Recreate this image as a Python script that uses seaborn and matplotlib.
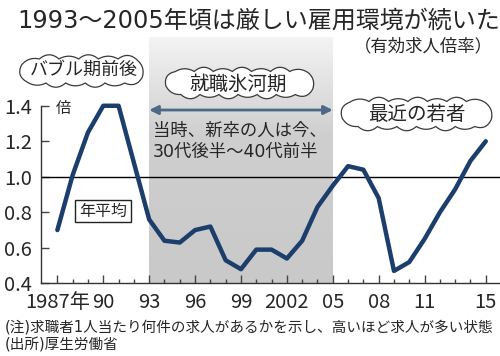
import numpy as np
import seaborn as sns
import matplotlib.pyplot as plt
from matplotlib.colors import LinearSegmentedColormap
from matplotlib.patches import Polygon

# datos: relacion ofertas/solicitantes (promedio anual)
years = list(range(1987, 2016))
ratio = [0.70, 1.01, 1.25, 1.40, 1.40, 1.08, 0.76, 0.64, 0.63, 0.70,
         0.72, 0.53, 0.48, 0.59, 0.59, 0.54, 0.64, 0.83, 0.95, 1.06,
         1.04, 0.88, 0.47, 0.52, 0.65, 0.80, 0.93, 1.09, 1.20]
xtick_years = [1987, 1990, 1993, 1996, 1999, 2002, 2005, 2008, 2011, 2015]
xtick_labels = ['1987年', '90', '93', '96', '99', '2002', '05', '08', '11', '15']
ytick_vals = [0.4, 0.6, 0.8, 1.0, 1.2, 1.4]
hyoga = (1993, 2005)

sns.set_style('white')
plt.rcParams['font.family'] = ['DejaVu Sans', 'Noto Sans CJK JP']
narrow = ['Liberation Sans Narrow', 'Noto Sans CJK JP']

line_color = '#1b3e6c'
arrow_color = '#4e6987'

fig = plt.figure(figsize=(5, 3.56), dpi=100)
ax = fig.add_axes([0.082, 0.204, 0.918, 0.692])
ytop = 1.787

# banda gris con degradado (periodo glacial de empleo)
cmap_band = LinearSegmentedColormap.from_list(
    'band', [(0, '#c9c9c9'), (0.6, '#cfcfcf'), (1, '#f4f4f4')])
grad = np.linspace(0, 1, 256).reshape(-1, 1)
ax.imshow(grad, extent=[hyoga[0], hyoga[1], 0.4, ytop], origin='lower',
          aspect='auto', cmap=cmap_band, zorder=0)

ax.axhline(1.0, color='black', lw=1, zorder=1)
sns.lineplot(x=years, y=ratio, ax=ax, color=line_color, lw=3.2, zorder=3)

ax.set_xlim(1985.93, 2015.93)
ax.set_ylim(0.4, ytop)
ax.set_xticks(xtick_years)
ax.set_xticklabels(xtick_labels)
ax.set_xticks(years, minor=True)
ax.set_yticks(ytick_vals)
ax.set_yticklabels([f'{v:.1f}' for v in ytick_vals])
ax.tick_params(axis='x', which='major', direction='in', length=6, width=1,
               color='#444444', pad=6, labelsize=14.5, bottom=True)
ax.tick_params(axis='x', which='minor', direction='in', length=3, width=1,
               color='#444444', bottom=True)
ax.tick_params(axis='y', direction='in', length=6, width=1,
               color='#444444', pad=6.5, labelsize=14.5, left=True)
for lbl in ax.get_xticklabels() + ax.get_yticklabels():
    lbl.set_family(narrow)

sns.despine(ax=ax)
ax.spines['left'].set_bounds(0.4, 1.4)
for s in ['left', 'bottom']:
    ax.spines[s].set_color('#333333')
    ax.spines[s].set_linewidth(1)

# flecha del periodo
ax.annotate('', xy=(hyoga[0], 1.376), xytext=(hyoga[1], 1.376),
            arrowprops=dict(arrowstyle='<|-|>', color=arrow_color, lw=2,
                            mutation_scale=13, shrinkA=0, shrinkB=0), zorder=4)

# capa de anotaciones en pixeles
ov = fig.add_axes([0, 0, 1, 1])
ov.set_xlim(0, 500)
ov.set_ylim(356, 0)
ov.axis('off')


def estadio(cx, cy, a, b, n=400):
    # contorno tipo "estadio": rectangulo con extremos semicirculares
    L = max(a - b, 0)
    t = np.linspace(-np.pi / 2, np.pi / 2, n)
    der = np.c_[cx + L + b * np.cos(t), cy + b * np.sin(t)]
    izq = np.c_[cx - L - b * np.cos(t), cy - b * np.sin(t)]
    return np.vstack([der, izq, der[:1]])


def nube(cx, cy, w, h, paso=19, flecha=3.5):
    pts = estadio(cx, cy, w / 2 - flecha, h / 2 - flecha)
    s = np.concatenate([[0], np.cumsum(np.hypot(*np.diff(pts, axis=0).T))])
    n = int(round(s[-1] / paso))
    tt = np.linspace(0, s[-1], n + 1) + paso * 0.3
    tt = np.mod(tt, s[-1])
    xs = np.interp(tt, s, pts[:, 0])
    ys = np.interp(tt, s, pts[:, 1])
    u = np.linspace(0, 1, 20)
    contorno = []
    for k in range(n):
        p0 = np.array([xs[k], ys[k]])
        p1 = np.array([xs[k + 1], ys[k + 1]])
        d = p1 - p0
        nrm = np.array([-d[1], d[0]]) / (np.hypot(*d) + 1e-9)
        if np.dot(nrm, (p0 + p1) / 2 - [cx, cy]) < 0:
            nrm = -nrm
        sag = flecha * (1.2 if k % 2 else 0.8)
        arco = p0 + np.outer(u, d) + np.outer(4 * sag * u * (1 - u), nrm)
        contorno.append(arco)
    ov.add_patch(Polygon(np.vstack(contorno), fc='white', ec='#3a3a3a',
                         lw=0.9, zorder=4, joinstyle='miter'))


nube(82, 71, 131, 31)
nube(240, 83, 156, 30)
nube(417, 114, 158, 32)
ov.text(84, 70, 'バブル期前後', ha='center', va='center', fontsize=13, zorder=6)
ov.text(238, 84, '就職氷河期', ha='center', va='center', fontsize=14, zorder=6)
ov.text(417, 114, '最近の若者', ha='center', va='center', fontsize=14, zorder=6)

ov.text(17, 21, '1993～2005年頃は厳しい雇用環境が続いた', ha='left', va='center',
        fontsize=17.3)
ov.text(493, 46, '（有効求人倍率）', ha='right', va='center', fontsize=12.5)
ov.text(56, 108, '倍', ha='left', va='center', fontsize=11)
ov.text(153, 131, '当時、新卒の人は今、', ha='left', va='center', fontsize=12.5)
ov.text(153, 152, '30代後半～40代前半', ha='left', va='center', fontsize=12.5)
ov.text(103, 211, '年平均', ha='center', va='center', fontsize=11.5,
        bbox=dict(boxstyle='square,pad=0.25', fc='white', ec='#222222', lw=1))

ov.text(5, 327, '(注)求職者1人当たり何件の求人があるかを示し、高いほど求人が多い状態',
        ha='left', va='center', fontsize=10.5)
ov.text(5, 345, '(出所)厚生労働省', ha='left', va='center', fontsize=10.5)

fig.savefig('out.png', dpi=100)
